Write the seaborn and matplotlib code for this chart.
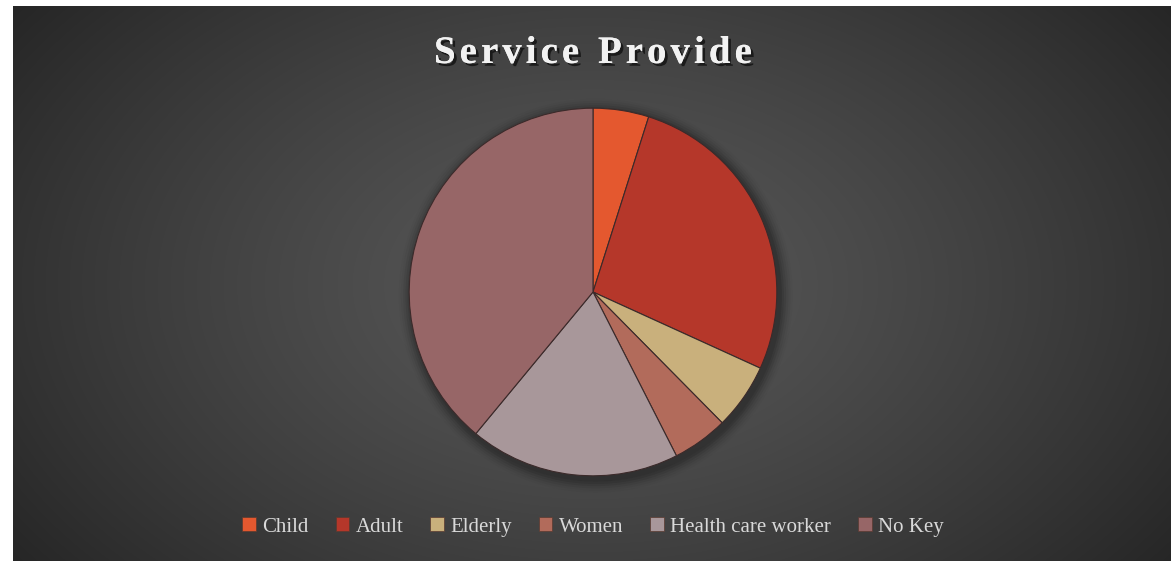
import numpy as np
import matplotlib
matplotlib.use("Agg")
import matplotlib.pyplot as plt
import matplotlib.patheffects as pe
from matplotlib.patches import Patch, Circle
import seaborn as sns

# Share of services provided, by recipient group (percent)
categories = ["Child", "Adult", "Elderly", "Women", "Health care worker", "No Key"]
shares = [4.9, 26.9, 5.8, 4.9, 18.5, 39.0]
colors = ["#e4582f", "#b5372a", "#c9b07c", "#b26b5b", "#a8979a", "#976667"]
title_text = "Service Provide"

sns.set_theme(style="dark")
plt.rcParams["font.family"] = ["Liberation Serif", "DejaVu Serif"]

W, H = 1171, 561
fig = plt.figure(figsize=(W / 100, H / 100), dpi=100, facecolor="white")

# Dark radial-gradient backdrop
bx0, by0 = 13, 6
bg = fig.add_axes([bx0 / W, 0, 1 - bx0 / W, 1 - by0 / H])
bg.set_axis_off()
xs = np.arange(bx0, W) + 0.5
ys = np.arange(by0, H) + 0.5
X, Y = np.meshgrid(xs, ys)
d = np.sqrt(((X - 593) / 720.0) ** 2 + ((Y - 285) / 470.0) ** 2)
d = np.clip(d, 0, 1)
lum = (88 - 50 * d ** 1.3) / 255.0
img = np.dstack([lum, lum, lum])
bg.imshow(img, aspect="auto", extent=[0, 1, 0, 1], interpolation="bilinear")
bg.set_xlim(0, 1)
bg.set_ylim(0, 1)

# Pie axes: centre (593, 292) px, radius ~184 px
cx, cy, half = 593, 292, 193
ax = fig.add_axes([(cx - half) / W, (H - cy - half) / H, 2 * half / W, 2 * half / H])
ax.patch.set_alpha(0)

# soft drop shadow under the pie
for k, a in enumerate(np.linspace(0.10, 0.02, 6)):
    ax.add_patch(Circle((0.015, -0.02), 1.0 + 0.012 * (k + 1), color="black",
                        alpha=a, lw=0, zorder=0, clip_on=False))

wedges, _ = ax.pie(shares, colors=colors, startangle=90, counterclock=False,
                   radius=1.0,
                   wedgeprops=dict(edgecolor="#3b2a2a", linewidth=0.8, zorder=2))
ax.set_xlim(-1.05, 1.05)
ax.set_ylim(-1.05, 1.05)
ax.set_aspect("equal")
ax.set_axis_off()

# Title with drop shadow, letter-spaced by placing glyphs one at a time
renderer = fig.canvas.get_renderer()
title_kw = dict(fontsize=28, fontweight="bold", color="#f2f2f2", va="baseline", ha="left",
                path_effects=[pe.withSimplePatchShadow(offset=(2, -2), shadow_rgbFace="black",
                                                       alpha=0.6),
                              pe.Normal()])
spacing = 4.0  # px between glyphs
widths = []
for ch in title_text:
    if ch == " ":
        t = fig.text(0, 0, "a", **title_kw)
        w = t.get_window_extent(renderer).width * 0.55
    else:
        t = fig.text(0, 0, ch, **title_kw)
        w = t.get_window_extent(renderer).width
    t.remove()
    widths.append(w)
total = sum(widths) + spacing * (len(title_text) - 1)
x = cx - total / 2
base_y = H - 63
for ch, w in zip(title_text, widths):
    if ch != " ":
        fig.text(x / W, base_y / H, ch, **title_kw)
    x += w + spacing

# Legend along the bottom
handles = [Patch(facecolor=c, edgecolor="#5a3a30", linewidth=0.5) for c in colors]
leg = fig.legend(handles, categories, loc="center", bbox_to_anchor=(cx / W, 1 - 527 / H),
                 ncol=6, frameon=False, fontsize=15, handlelength=0.65, handleheight=0.65,
                 handletextpad=0.3, columnspacing=1.3)
for t in leg.get_texts():
    t.set_color("#d9d9d9")

fig.savefig("out.png", dpi=100, facecolor="white")
